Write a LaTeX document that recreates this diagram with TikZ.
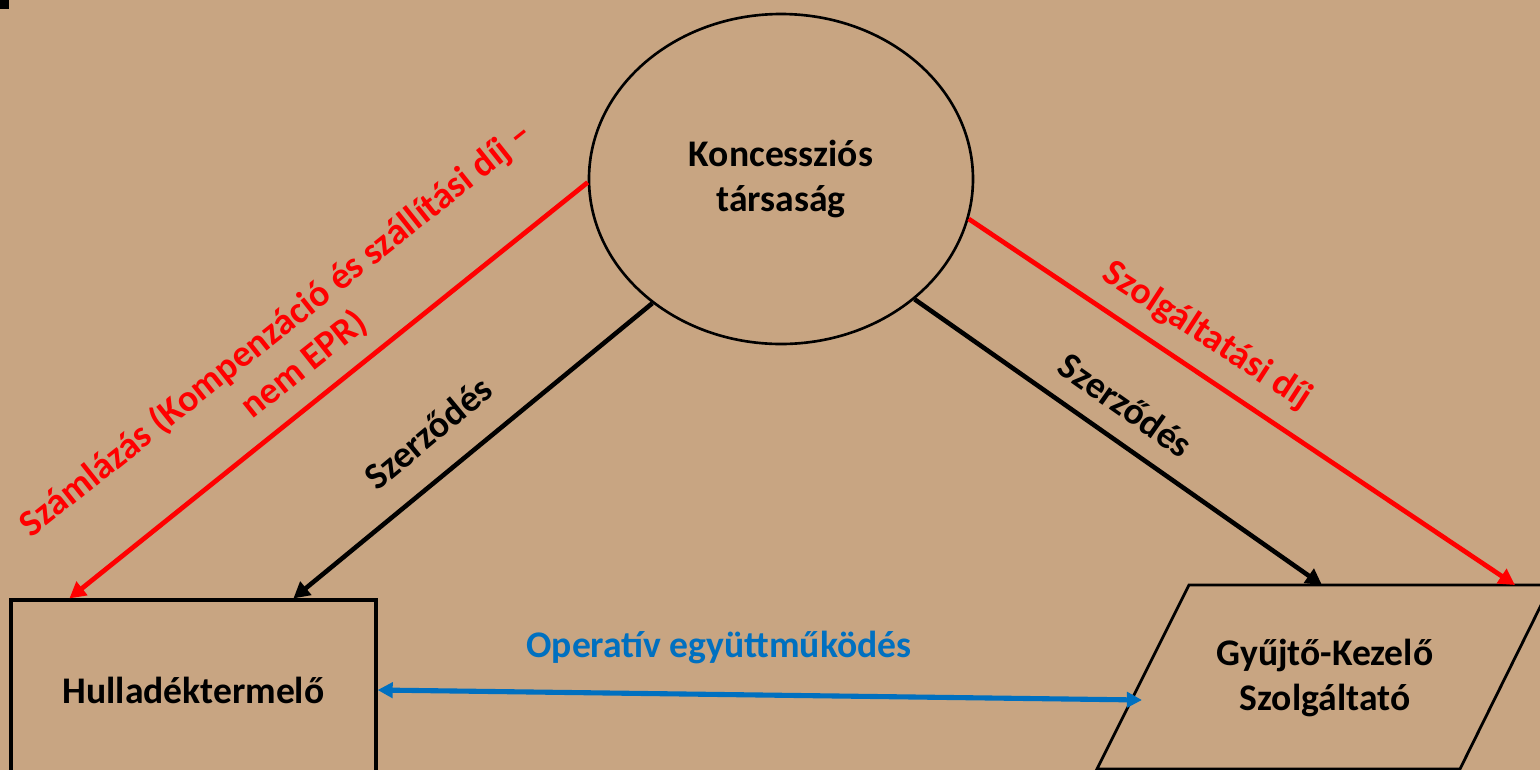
\documentclass[tikz,border=0pt]{standalone}
\usepackage{fontspec}
\setmainfont{Carlito}
\usetikzlibrary{calc,arrows.meta,shapes.geometric}
\definecolor{kraft}{RGB}{200,165,130}
\definecolor{billred}{RGB}{255,0,0}
\definecolor{opblue}{RGB}{0,112,192}
\tikzset{
	txt/.style={font=\fontsize{10.7}{12.8}\selectfont\bfseries, align=center, inner sep=0pt},
	boxline/.style={draw=black, line width=0.9pt},
	contract/.style={line width=1.3pt, draw=black, -{Triangle[length=4.6pt,width=4.8pt]}},
	billing/.style={line width=1.35pt, draw=billred, -{Triangle[length=4.6pt,width=4.8pt]}},
	coop/.style={line width=1.45pt, draw=opblue, {Triangle[length=4.3pt,width=4.3pt]}-{Triangle[length=4.3pt,width=4.3pt]}}
}
\begin{document}
\begin{tikzpicture}
			%%%%% START %%%%%
			
			\useasboundingbox (0, 0) rectangle (15.4, -7.7);
			\clip (0, 0) rectangle (15.4, -7.7);
			\fill[kraft] (0, 0) rectangle (15.4, -7.7);
			\fill[black] (0, 0) rectangle (0.09, -0.09);
			
			\node[ellipse, boxline, line width=0.75pt, minimum width=3.84cm, minimum height=3.3cm, txt] (kt) at (7.81, -1.79) {Koncessziós\\társaság};
			\node[rectangle, boxline, minimum width=3.65cm, minimum height=1.8cm, txt] (hp) at (1.935, -6.9) {Hulladéktermelő};
			
			% parallelogram
			\coordinate (gkBL) at (10.97, -7.69);
			\coordinate (gkTL) at (11.89, -5.85);
			\coordinate (gkTR) at (15.51, -5.85);
			\coordinate (gkBR) at (14.60, -7.69);
			\draw[boxline, line width=0.8pt] (gkBL) -- (gkTL) -- (gkTR) -- (gkBR) -- cycle;
			\node[txt] (gk) at (13.25, -6.78) {Gyűjtő-Kezelő\\Szolgáltató};
			
			\coordinate (hpRed) at ($(hp.north west)+(0.6, 0)$);
			\coordinate (hpBlack) at ($(hp.north west)+(2.84, 0)$);
			\coordinate (gkBlack) at ($(gkTL)+(1.33, 0)$);
			\coordinate (gkRed) at ($(gkTL)+(3.26, 0)$);
			\coordinate (gkBlue) at (11.42, -7.0);
			
			\draw[billing] (kt.181.5) -- (hpRed);
			\draw[contract] (kt.224) -- (hpBlack);
			\draw[contract] (kt.-42) -- (gkBlack);
			\draw[billing] (kt.-12) -- (gkRed);
			\draw[coop] (hp.east) -- (gkBlue);
			
			\node[txt, text=billred, rotate=38.5] (billL) at (2.9, -3.47) {Számlázás (Kompenzáció és szállítási díj –\\nem EPR)};
			\node[txt, rotate=39.7] (szL) at (4.28, -4.33) {Szerződés};
			\node[txt, rotate=-35] (szR) at (11.26, -4.05) {Szerződés};
			\node[txt, text=billred, rotate=-33] (feeR) at (12.07, -3.36) {Szolgáltatási díj};
			\node[txt, text=opblue] (opL) at (7.19, -6.47) {Operatív együttműködés};
			
			%%%%% END %%%%%
\end{tikzpicture}
\end{document}
